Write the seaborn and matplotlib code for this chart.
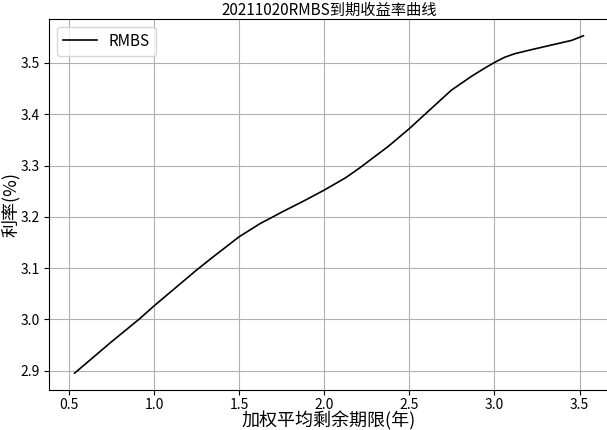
import numpy as np
import pandas as pd
import matplotlib
matplotlib.use("Agg")
import matplotlib.pyplot as plt
import seaborn as sns

# =========================
# DATA
# =========================
term_years = [0.534, 0.75, 0.912, 1.0, 1.125, 1.25, 1.333, 1.5, 1.625, 1.694,
              1.75, 1.875, 2.0, 2.125, 2.207, 2.375, 2.5, 2.625, 2.747,
              2.865, 2.943, 3.0, 3.059, 3.118, 3.218, 3.335, 3.453, 3.522]
yield_pct = [2.895, 2.956, 3.000, 3.026, 3.061, 3.096, 3.118, 3.161, 3.187, 3.199,
             3.209, 3.230, 3.252, 3.276, 3.295, 3.337, 3.372, 3.410, 3.447,
             3.474, 3.490, 3.501, 3.511, 3.518, 3.526, 3.535, 3.544, 3.553]
series_name = "RMBS"

df = pd.DataFrame({"term": term_years, "yield": yield_pct})

# =========================
# PLOT
# =========================
plt.rcParams["font.family"] = ["Noto Sans CJK SC", "DejaVu Sans"]
plt.rcParams["axes.unicode_minus"] = False

fig = plt.figure(figsize=(6.07, 4.30), dpi=100)
ax = fig.add_axes([0.081, 0.093, 0.922, 0.863])

sns.lineplot(data=df, x="term", y="yield", color="black", linewidth=1.2,
             label=series_name, ax=ax)

ax.grid(True, color="#b0b0b0", linewidth=0.8)
ax.set_axisbelow(True)
ax.set_title("20211020RMBS到期收益率曲线", fontsize=11, pad=0)
ax.set_xlabel("加权平均剩余期限(年)", fontsize=13, labelpad=0)
ax.set_ylabel("利率(%)", fontsize=13, labelpad=0)
ax.tick_params(labelsize=10)
ax.tick_params(axis="x", pad=2)
ax.set_xticks([0.5, 1.0, 1.5, 2.0, 2.5, 3.0, 3.5])
ax.set_yticks([2.9, 3.0, 3.1, 3.2, 3.3, 3.4, 3.5])
ax.legend(loc="upper left", fontsize=11, handlelength=2.2)

fig.savefig("out.png", dpi=100)
